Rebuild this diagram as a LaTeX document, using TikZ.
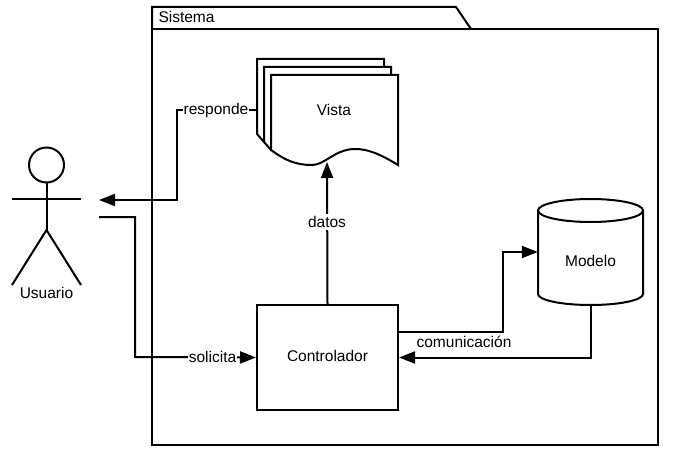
\documentclass[tikz,border=0pt]{standalone}
\usepackage{fontspec}
\setmainfont{Liberation Sans}
\usetikzlibrary{arrows.meta}
\tikzset{
    box/.style={draw,line width=2pt,inner sep=0pt},
    stroke/.style={line width=2pt,line join=miter},
    link/.style={line width=2pt,-{Triangle[length=16pt,width=12pt]}},
    tag/.style={fill=white,inner xsep=1pt,inner ysep=2pt},
    every node/.append style={font=\fontsize{15.5}{18}\selectfont}
}
\begin{document}
\begin{tikzpicture}[x=1pt,y=-1pt]
    \useasboundingbox (0,0) rectangle (677,457);
    %% System package
    \draw[stroke] (152,29) -- (152,7) -- (456,7) -- (471,29);
    \draw[stroke] (152,29) rectangle (658,445);
    \node[anchor=west] (sistema) at (155,17) {Sistema};
    %% User
    \draw[stroke] (46.5,165) circle (17.5);
    \draw[stroke] (46.5,182.5) -- (46.5,230) (12,199) -- (81,199);
    \draw[stroke] (12,285) -- (46.5,230) -- (81,285);
    \node (usuario) at (46.5,293) {Usuario};
    \coordinate (salida) at (99,217);
    \coordinate (entrada) at (99,200);
    %% View, three sheets
    \draw[stroke] (264,142) -- (257,134) -- (257,59) -- (384,59) -- (384,67);
    \draw[stroke] (271,150) -- (264,142) -- (264,67) -- (391,67) -- (391,75);
    \draw[stroke] (271,150) -- (271,75) -- (398,75) -- (398,165)
        .. controls (380,154) and (368,149) .. (355,149)
        .. controls (335,149) and (325,165) .. (312,165)
        .. controls (295,165) and (285,160) .. (271,150) -- cycle;
    \node (vista) at (334,110) {Vista};
    \node[inner sep=0pt] (vistaback) at (257,110) {};
    \coordinate (vistawave) at (327,162);
    %% Controller and model
    \node[box,text depth=3pt,minimum width=141pt,minimum height=105pt] (controlador) at (327.5,357.5) {Controlador};
    \draw[stroke] (538,210.5) -- (538,294)
        .. controls (538,300) and (561,305) .. (590.5,305)
        .. controls (620,305) and (643,300) .. (643,294) -- (643,210.5);
    \draw[stroke] (590.5,210.5) ellipse (52.5 and 11.5);
    \node[minimum width=105pt,minimum height=106pt,inner sep=0pt] (modelo) at (590.5,252) {};
    \node (modelotext) at (590.5,260.5) {Modelo};
    %% Connectors
    \draw[link] (controlador.north) -- (vistawave);
    \node[tag] (datos) at (327,222) {datos};
    \draw[link] (vistaback.center) -- (177,110) -- (177,200) -- (entrada);
    \node[tag] (responde) at (216,110) {responde};
    \draw[link] (salida) -- (135,217) -- (135,357) -- (controlador.west);
    \node[tag] (solicita) at (212.5,356.5) {solicita};
    \draw[link] (398,332) -- (503,332) -- (503,252) -- (modelo.west);
    \draw[link] (modelo.south) -- (590.5,357.5) -- (controlador.east);
    \node (comunicacion) at (464,342) {comunicación};
\end{tikzpicture}
\end{document}
